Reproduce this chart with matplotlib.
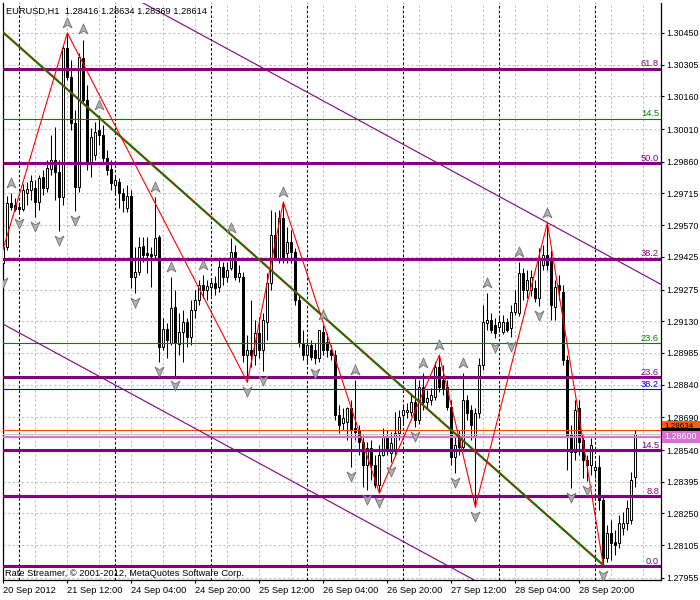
import matplotlib
matplotlib.use('Agg')
import matplotlib.pyplot as plt
from matplotlib.path import Path
from matplotlib.patches import Rectangle
from matplotlib.transforms import offset_copy

plt.rcParams['font.family'] = ['Liberation Sans', 'DejaVu Sans']

# EURUSD H1 bars, first bar 20 Sep 2012 20:00
opens = [1.29396, 1.29470, 1.29671, 1.29662, 1.29653, 1.29644, 1.29717, 1.29731, 1.29740, 1.29676,
         1.29790, 1.29740, 1.29827, 1.29868, 1.29813, 1.29699, 1.30381, 1.30248, 1.30038, 1.29745,
         1.30335, 1.30143, 1.29854, 1.29891, 1.30006, 1.29983, 1.29877, 1.29827, 1.29754, 1.29767,
         1.29717, 1.29648, 1.29703, 1.29332, 1.29355, 1.29474, 1.29442, 1.29438, 1.29433, 1.29516,
         1.29012, 1.29094, 1.29030, 1.29195, 1.29025, 1.29080, 1.29126, 1.29058, 1.29181, 1.29227,
         1.29296, 1.29273, 1.29287, 1.29305, 1.29287, 1.29378, 1.29332, 1.29374, 1.29447, 1.29332,
         1.29332, 1.28975, 1.28998, 1.28975, 1.29076, 1.28998, 1.29126, 1.29305, 1.29525, 1.29410,
         1.29603, 1.29442, 1.29493, 1.29447, 1.29227, 1.29030, 1.28975, 1.29021, 1.28998, 1.28961,
         1.29080, 1.29035, 1.28998, 1.28975, 1.28700, 1.28664, 1.28668, 1.28732, 1.28641, 1.28632,
         1.28577, 1.28471, 1.28549, 1.28471, 1.28380, 1.28517, 1.28600, 1.28526, 1.28540, 1.28618,
         1.28700, 1.28714, 1.28714, 1.28760, 1.28677, 1.28829, 1.28760, 1.28769, 1.28783, 1.28920,
         1.28861, 1.28829, 1.28737, 1.28508, 1.28600, 1.28554, 1.28769, 1.28723, 1.28600, 1.28709,
         1.28929, 1.29122, 1.29135, 1.29112, 1.29103, 1.29080, 1.29126, 1.29099, 1.29172, 1.29167,
         1.29351, 1.29273, 1.29273, 1.29282, 1.29236, 1.29387, 1.29433, 1.29419, 1.29195, 1.29296,
         1.29264, 1.28952, 1.28609, 1.28531, 1.28732, 1.28586, 1.28494, 1.28471, 1.28448, 1.28462,
         1.28311, 1.28045, 1.28160, 1.28119, 1.28114, 1.28183, 1.28206, 1.28219, 1.28416]
highs = [1.29516, 1.29703, 1.29717, 1.29694, 1.29676, 1.29758, 1.29767, 1.29800, 1.29777, 1.29800,
         1.29822, 1.29868, 1.29983, 1.30019, 1.29868, 1.30395, 1.30450, 1.30326, 1.30097, 1.30358,
         1.30418, 1.30212, 1.30015, 1.30042, 1.30074, 1.30029, 1.29914, 1.29868, 1.29800, 1.29786,
         1.29740, 1.29754, 1.29731, 1.29470, 1.29516, 1.29516, 1.29516, 1.29470, 1.29699, 1.29525,
         1.29145, 1.29122, 1.29332, 1.29273, 1.29167, 1.29181, 1.29145, 1.29227, 1.29273, 1.29319,
         1.29341, 1.29319, 1.29328, 1.29337, 1.29419, 1.29401, 1.29401, 1.29511, 1.29479, 1.29387,
         1.29355, 1.29067, 1.29227, 1.29135, 1.29149, 1.29167, 1.29351, 1.29639, 1.29630, 1.29639,
         1.29676, 1.29561, 1.29548, 1.29465, 1.29250, 1.29090, 1.29053, 1.29044, 1.29030, 1.29090,
         1.29112, 1.29076, 1.29021, 1.28998, 1.28746, 1.28732, 1.28737, 1.28769, 1.28861, 1.28654,
         1.28609, 1.28577, 1.28586, 1.28517, 1.28563, 1.28641, 1.28632, 1.28622, 1.28714, 1.28723,
         1.28746, 1.28755, 1.28792, 1.28874, 1.28861, 1.28893, 1.28815, 1.28824, 1.28943, 1.28975,
         1.28929, 1.28861, 1.28769, 1.28600, 1.28632, 1.28893, 1.28792, 1.28746, 1.28732, 1.28961,
         1.29204, 1.29259, 1.29167, 1.29145, 1.29154, 1.29158, 1.29145, 1.29204, 1.29273, 1.29401,
         1.29374, 1.29364, 1.29364, 1.29319, 1.29465, 1.29479, 1.29580, 1.29456, 1.29319, 1.29341,
         1.29296, 1.28975, 1.28654, 1.28769, 1.28769, 1.28609, 1.28517, 1.28595, 1.28485, 1.28517,
         1.28334, 1.28197, 1.28219, 1.28174, 1.28242, 1.28256, 1.28311, 1.28439, 1.28634]
lows = [1.29351, 1.29456, 1.29639, 1.29635, 1.29621, 1.29635, 1.29662, 1.29685, 1.29607, 1.29639,
        1.29708, 1.29722, 1.29800, 1.29685, 1.29543, 1.29662, 1.30235, 1.30006, 1.29635, 1.29722,
        1.30134, 1.29822, 1.29790, 1.29868, 1.29937, 1.29859, 1.29800, 1.29731, 1.29708, 1.29648,
        1.29630, 1.29630, 1.29282, 1.29259, 1.29341, 1.29401, 1.29351, 1.29287, 1.29419, 1.28943,
        1.28998, 1.28961, 1.29021, 1.28879, 1.28975, 1.28943, 1.29012, 1.29021, 1.29145, 1.29204,
        1.29236, 1.29227, 1.29245, 1.29250, 1.29264, 1.29296, 1.29309, 1.29364, 1.29319, 1.29309,
        1.28943, 1.28851, 1.28920, 1.28929, 1.28961, 1.28902, 1.29044, 1.29273, 1.29410, 1.29396,
        1.29396, 1.29396, 1.29396, 1.29204, 1.29012, 1.28952, 1.28943, 1.28952, 1.28934, 1.28943,
        1.28975, 1.28966, 1.28952, 1.28677, 1.28618, 1.28632, 1.28586, 1.28462, 1.28586, 1.28517,
        1.28370, 1.28357, 1.28403, 1.28366, 1.28343, 1.28513, 1.28517, 1.28485, 1.28517, 1.28586,
        1.28654, 1.28687, 1.28696, 1.28645, 1.28659, 1.28723, 1.28732, 1.28746, 1.28769, 1.28806,
        1.28792, 1.28723, 1.28471, 1.28435, 1.28517, 1.28540, 1.28677, 1.28586, 1.28279, 1.28687,
        1.28906, 1.29090, 1.29076, 1.29053, 1.29080, 1.29071, 1.29080, 1.29058, 1.29158, 1.29154,
        1.29227, 1.29236, 1.29245, 1.29218, 1.29200, 1.29364, 1.29364, 1.29135, 1.29135, 1.29227,
        1.28929, 1.28448, 1.28366, 1.28494, 1.28517, 1.28412, 1.28398, 1.28425, 1.28412, 1.28265,
        1.28009, 1.28027, 1.28036, 1.28059, 1.28091, 1.28151, 1.28174, 1.28201, 1.28369]
closes = [1.29470, 1.29671, 1.29653, 1.29644, 1.29644, 1.29731, 1.29735, 1.29772, 1.29676, 1.29786,
          1.29740, 1.29832, 1.29868, 1.29813, 1.29699, 1.30381, 1.30248, 1.30038, 1.29745, 1.30340,
          1.30143, 1.29854, 1.29974, 1.29996, 1.29983, 1.29877, 1.29822, 1.29763, 1.29777, 1.29717,
          1.29685, 1.29703, 1.29332, 1.29355, 1.29470, 1.29433, 1.29433, 1.29429, 1.29511, 1.29012,
          1.29094, 1.29044, 1.29190, 1.29030, 1.29080, 1.29126, 1.29058, 1.29181, 1.29227, 1.29296,
          1.29273, 1.29291, 1.29305, 1.29282, 1.29378, 1.29332, 1.29364, 1.29447, 1.29332, 1.29351,
          1.28975, 1.28998, 1.28975, 1.29076, 1.28998, 1.29135, 1.29305, 1.29525, 1.29419, 1.29603,
          1.29419, 1.29493, 1.29447, 1.29227, 1.29030, 1.28975, 1.29021, 1.28966, 1.28961, 1.29090,
          1.28998, 1.28998, 1.28975, 1.28700, 1.28654, 1.28687, 1.28732, 1.28632, 1.28622, 1.28577,
          1.28471, 1.28549, 1.28471, 1.28380, 1.28517, 1.28600, 1.28540, 1.28572, 1.28618, 1.28691,
          1.28723, 1.28723, 1.28760, 1.28677, 1.28829, 1.28760, 1.28778, 1.28792, 1.28920, 1.28829,
          1.28824, 1.28737, 1.28508, 1.28563, 1.28554, 1.28769, 1.28709, 1.28654, 1.28709, 1.28929,
          1.29126, 1.29135, 1.29090, 1.29076, 1.29126, 1.29126, 1.29090, 1.29172, 1.29213, 1.29351,
          1.29273, 1.29319, 1.29332, 1.29236, 1.29410, 1.29433, 1.29387, 1.29204, 1.29287, 1.29273,
          1.28952, 1.28609, 1.28531, 1.28723, 1.28577, 1.28494, 1.28471, 1.28563, 1.28462, 1.28311,
          1.28045, 1.28160, 1.28114, 1.28105, 1.28206, 1.28206, 1.28274, 1.28403, 1.28614]

xtick_labels = ['20 Sep 2012', '21 Sep 12:00', '24 Sep 04:00', '24 Sep 20:00', '25 Sep 12:00',
                '26 Sep 04:00', '26 Sep 20:00', '27 Sep 12:00', '28 Sep 04:00', '28 Sep 20:00']
day_start_bars = [4, 28, 52, 76, 100, 124, 148]
price_ticks = [1.30450, 1.30305, 1.30160, 1.30010, 1.29860, 1.29715, 1.29570, 1.29425, 1.29275,
               1.29130, 1.28985, 1.28840, 1.28690, 1.28540, 1.28395, 1.28250, 1.28105, 1.27955]

# fractals (bar numbers)
fractal_up = [2, 16, 20, 24, 38, 42, 50, 57, 70, 80, 88, 105, 109, 115, 121, 129, 136]
fractal_down = [0, 4, 8, 14, 18, 33, 39, 43, 61, 65, 78, 87, 91, 94, 97, 103, 113, 118,
                123, 127, 134, 142, 146, 150]

# zigzag
zz_bars = [-1, 16, 61, 70, 94, 109, 118, 136, 150]
zz_prices = [1.29401, 1.30450, 1.28851, 1.29676, 1.28343, 1.28975, 1.28279, 1.29580, 1.28009]

# trend line and channel
trend_bars = [-1, 150]
trend_prices = [1.30468, 1.28013]
chan_up_bars = [30, 170]
chan_up_prices = [1.30636, 1.29243]
chan_lo_bars = [-2, 125]
chan_lo_prices = [1.29136, 1.27872]

# fibo levels
fib_purple = [1.30285, 1.29854, 1.29415, 1.28874, 1.28540, 1.28329, 1.28009]
fib_purple_labels = ['61.8', '50.0', '38.2', '23.6', '14.5', '8.8', '0.0']
fib_green = [1.30056, 1.29030]
fib_green_labels = ['14.5', '23.6']
fib_blue = [1.28819]
fib_blue_labels = ['38.2']

ask_price = 1.28634
bid_price = 1.28614
hline_price = 1.28600

FS = 6.7
YFS = 6.4
fig = plt.figure(figsize=(7, 6), dpi=100)
ax = fig.add_axes([3 / 700, 20 / 600, 658 / 700, 577 / 600])
ax.set_xlim(-0.075, 164.4)
ax.set_ylim(1.27945, 1.30587)

# grid
for b in range(8, 165, 8):
    ax.axvline(b, color='#C0C0C0', ls=(0, (2.2, 2.2)), lw=0.75, zorder=0.5)
for p in price_ticks:
    ax.axhline(p, color='#C0C0C0', ls=(0, (2.2, 2.2)), lw=0.75, zorder=0.5)
for b in day_start_bars:
    ax.axvline(b, color='black', ls=(0, (2.5, 2.0)), lw=0.75, zorder=0.6)

# candles
idx = list(range(len(opens)))
ax.vlines(idx, lows, highs, color='black', lw=0.75, zorder=2)
bottoms = [min(o, c) for o, c in zip(opens, closes)]
heights = [max(abs(c - o), 0.000005) for o, c in zip(opens, closes)]
colors = ['white' if c > o else 'black' for o, c in zip(opens, closes)]
ax.bar(idx, heights, bottom=bottoms, width=0.55, color=colors, edgecolor='black',
       linewidth=0.7, zorder=3)

# horizontal levels
for p in fib_purple:
    ax.axhline(p, color='#800080', lw=2.2, zorder=4)
for p in fib_green:
    ax.axhline(p, color='#008000', lw=0.8, zorder=4)
for p in fib_blue:
    ax.axhline(p, color='#0000FF', lw=0.8, zorder=4)
ax.axhline(ask_price, color='#FF4500', lw=0.8, zorder=4)
ax.axhline(bid_price, color='#C0C0C0', lw=0.7, zorder=4)
ax.axhline(hline_price, color='#DA70D6', lw=1.6, zorder=4)

lab_tr = offset_copy(ax.get_yaxis_transform(), fig=fig, y=1.8, units='points')
for prices, labels, col in [(fib_purple, fib_purple_labels, '#800080'),
                            (fib_green, fib_green_labels, '#008000'),
                            (fib_blue, fib_blue_labels, '#0000FF')]:
    for p, t in zip(prices, labels):
        ax.text(0.997, p, t, transform=lab_tr, ha='right', va='baseline',
                color=col, fontsize=FS, zorder=6)

# channel + trend line
ax.plot(chan_up_bars, chan_up_prices, color='#800080', lw=0.8, zorder=4)
ax.plot(chan_lo_bars, chan_lo_prices, color='#800080', lw=0.8, zorder=4)
ax.plot(trend_bars, trend_prices, color='#008000', lw=1.6, zorder=4.5)
ax.plot(trend_bars, trend_prices, color='#FF0000', lw=0.7, ls=(0, (3, 2)), zorder=4.6)

# zigzag
ax.plot(zz_bars, zz_prices, color='#FF0000', lw=0.8, zorder=5)

# fractal arrows
up_arrow = Path([(0, 1), (0.8, -0.8), (0, -0.3), (-0.8, -0.8), (0, 1)],
                [Path.MOVETO, Path.LINETO, Path.LINETO, Path.LINETO, Path.CLOSEPOLY])
down_arrow = Path([(0, -1), (0.8, 0.8), (0, 0.3), (-0.8, 0.8), (0, -1)],
                  [Path.MOVETO, Path.LINETO, Path.LINETO, Path.LINETO, Path.CLOSEPOLY])
up_tr = offset_copy(ax.transData, fig=fig, y=7.5, units='points')
dn_tr = offset_copy(ax.transData, fig=fig, y=-6.5, units='points')
ax.plot(fractal_up, [highs[i] for i in fractal_up], ls='none', marker=up_arrow, ms=8,
        mfc='#B0B0B0', mec='#707070', mew=0.6, transform=up_tr, zorder=6)
ax.plot(fractal_down, [lows[i] for i in fractal_down], ls='none', marker=down_arrow, ms=8,
        mfc='#B0B0B0', mec='#707070', mew=0.6, transform=dn_tr, zorder=6)

# axes
ax.set_xticks(range(0, 16 * len(xtick_labels), 16))
ax.set_xticklabels(xtick_labels)
for lab in ax.get_xticklabels():
    lab.set_ha('left')
ax.set_yticks(price_ticks)
ax.set_yticklabels(['%.5f' % p for p in price_ticks])
ax.yaxis.tick_right()
ax.tick_params(axis='both', direction='out', length=2.5, width=0.8,
               colors='black', pad=1.5)
ax.tick_params(axis='x', labelsize=FS)
ax.tick_params(axis='y', labelsize=YFS, pad=1.2)
ax.spines['top'].set_visible(False)
for s in ['left', 'right', 'bottom']:
    ax.spines[s].set_color('black')
    ax.spines[s].set_linewidth(0.9)

# price labels on the right axis (ask label sits just above its line,
# bid box is mostly covered by the pink line label, as in the terminal)
ytr = ax.get_yaxis_transform()
box_h = 0.00052
ask_tr = offset_copy(ytr, fig=fig, y=2.2, units='points')
ax.add_patch(Rectangle((1.0015, ask_price - box_h / 2), 0.058, box_h, transform=ask_tr,
                       facecolor='#FF5A1F', edgecolor='none', clip_on=False, zorder=7))
ax.text(1.005, ask_price, '%.5f' % ask_price, transform=ask_tr, ha='left', va='center',
        color='black', fontsize=5.8, clip_on=False, zorder=8)
ax.add_patch(Rectangle((1.0015, bid_price - box_h / 2), 0.058, box_h, transform=ytr,
                       facecolor='black', edgecolor='none', clip_on=False, zorder=8.5))
ax.add_patch(Rectangle((1.0015, hline_price - box_h / 2), 0.058, box_h, transform=ytr,
                       facecolor='#DA70D6', edgecolor='none', clip_on=False, zorder=9))
ax.text(1.005, hline_price, '%.5f' % hline_price, transform=ytr, ha='left', va='center',
        color='white', fontsize=YFS, clip_on=False, zorder=10)

ax.text(0.005, 0.993, 'EURUSD,H1  1.28416 1.28634 1.28369 1.28614', transform=ax.transAxes,
        ha='left', va='top', fontsize=FS, color='black', zorder=8)
ax.text(0.003, 0.004, 'Rate Streamer, \u00a9 2001-2012, MetaQuotes Software Corp.',
        transform=ax.transAxes, ha='left', va='bottom', fontsize=FS, color='black', zorder=8)

fig.savefig('out.png', dpi=100, facecolor='white')
